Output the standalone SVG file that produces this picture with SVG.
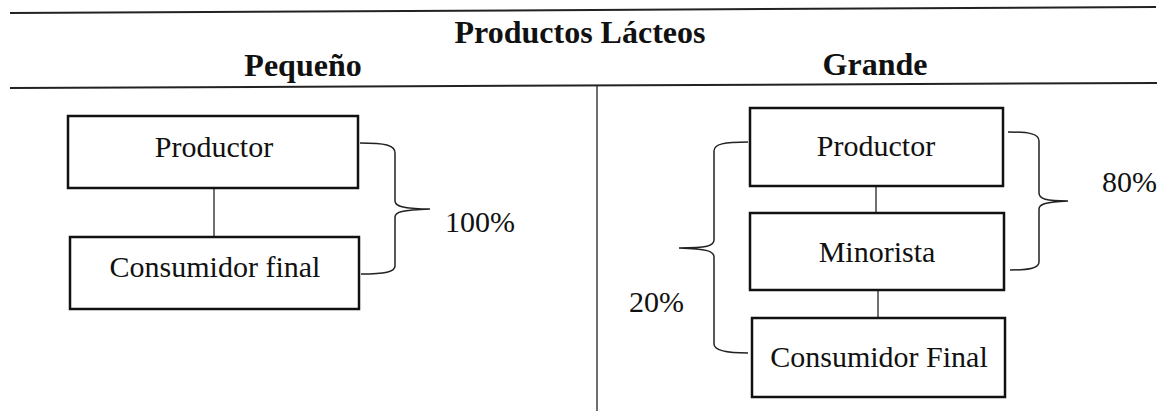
<svg xmlns="http://www.w3.org/2000/svg" width="1163" height="411" viewBox="0 0 1163 411">
<style>
  .hdr { font-family: "Liberation Serif", "Times New Roman", serif; font-weight: bold; font-size: 32px; fill: #111; text-anchor: middle; }
  .lbl { font-family: "Liberation Serif", "Times New Roman", serif; font-size: 30px; fill: #111; text-anchor: middle; }
  .pct { font-family: "Liberation Serif", "Times New Roman", serif; font-size: 30px; fill: #111; }
  .box { fill: #fff; stroke: #111; stroke-width: 2.5; }
  .rule { stroke: #222; stroke-width: 2; fill: none; }
  .link { stroke: #222; stroke-width: 1.3; fill: none; }
  .brace { stroke: #222; stroke-width: 1.5; fill: none; }
</style>
<rect x="0" y="0" width="1163" height="411" fill="#fff"/>
<g id="header">
  <line class="rule" x1="10" y1="13" x2="1156" y2="7"/>
  <text class="hdr" x="580" y="43">Productos Lácteos</text>
  <text class="hdr" x="303" y="76">Pequeño</text>
  <text class="hdr" x="875" y="75">Grande</text>
  <line class="rule" x1="10" y1="88" x2="1157" y2="83"/>
  <line class="link" x1="597" y1="86" x2="597" y2="411"/>
</g>
<g id="connectors">
  <line class="link" x1="214" y1="188" x2="214" y2="237"/>
  <line class="link" x1="876" y1="186" x2="876" y2="213"/>
  <line class="link" x1="878" y1="290" x2="878" y2="318"/>
  <path class="brace" d="M360,143 C385,143 395,145 395,153 L395,201 C395,206 402,209 430,209 C402,210 395,212 395,217 L395,266 C395,272 385,274 361,274"/>
  <path class="brace" d="M1008,132 C1030,132 1039,134 1039,141 L1039,193 C1039,199 1046,201 1068,201 C1046,202 1039,204 1039,209 L1039,262 C1039,268 1030,270 1010,270"/>
  <path class="brace" d="M748,142 C724,142 714,144 714,151 L714,240 C714,246 707,248 679,248 C707,249 714,251 714,257 L714,344 C714,350 724,353 748,353"/>
</g>
<g id="small-productor">
  <rect class="box" x="68" y="116" width="290" height="72"/>
  <text class="lbl" x="214" y="157">Productor</text>
</g>
<g id="small-consumidor">
  <rect class="box" x="70" y="237" width="289" height="72"/>
  <text class="lbl" x="215" y="277">Consumidor final</text>
</g>
<g id="pct-100">
  <text class="pct" x="445" y="232">100%</text>
</g>
<g id="large-productor">
  <rect class="box" x="750" y="108" width="253" height="78"/>
  <text class="lbl" x="876" y="156">Productor</text>
</g>
<g id="large-minorista">
  <rect class="box" x="750" y="213" width="254" height="77"/>
  <text class="lbl" x="877" y="262">Minorista</text>
</g>
<g id="large-consumidor">
  <rect class="box" x="752" y="318" width="253" height="79"/>
  <text class="lbl" x="879" y="367">Consumidor Final</text>
</g>
<g id="pct-80">
  <text class="pct" x="1102" y="192">80%</text>
</g>
<g id="pct-20">
  <text class="pct" x="629" y="312">20%</text>
</g>
</svg>
